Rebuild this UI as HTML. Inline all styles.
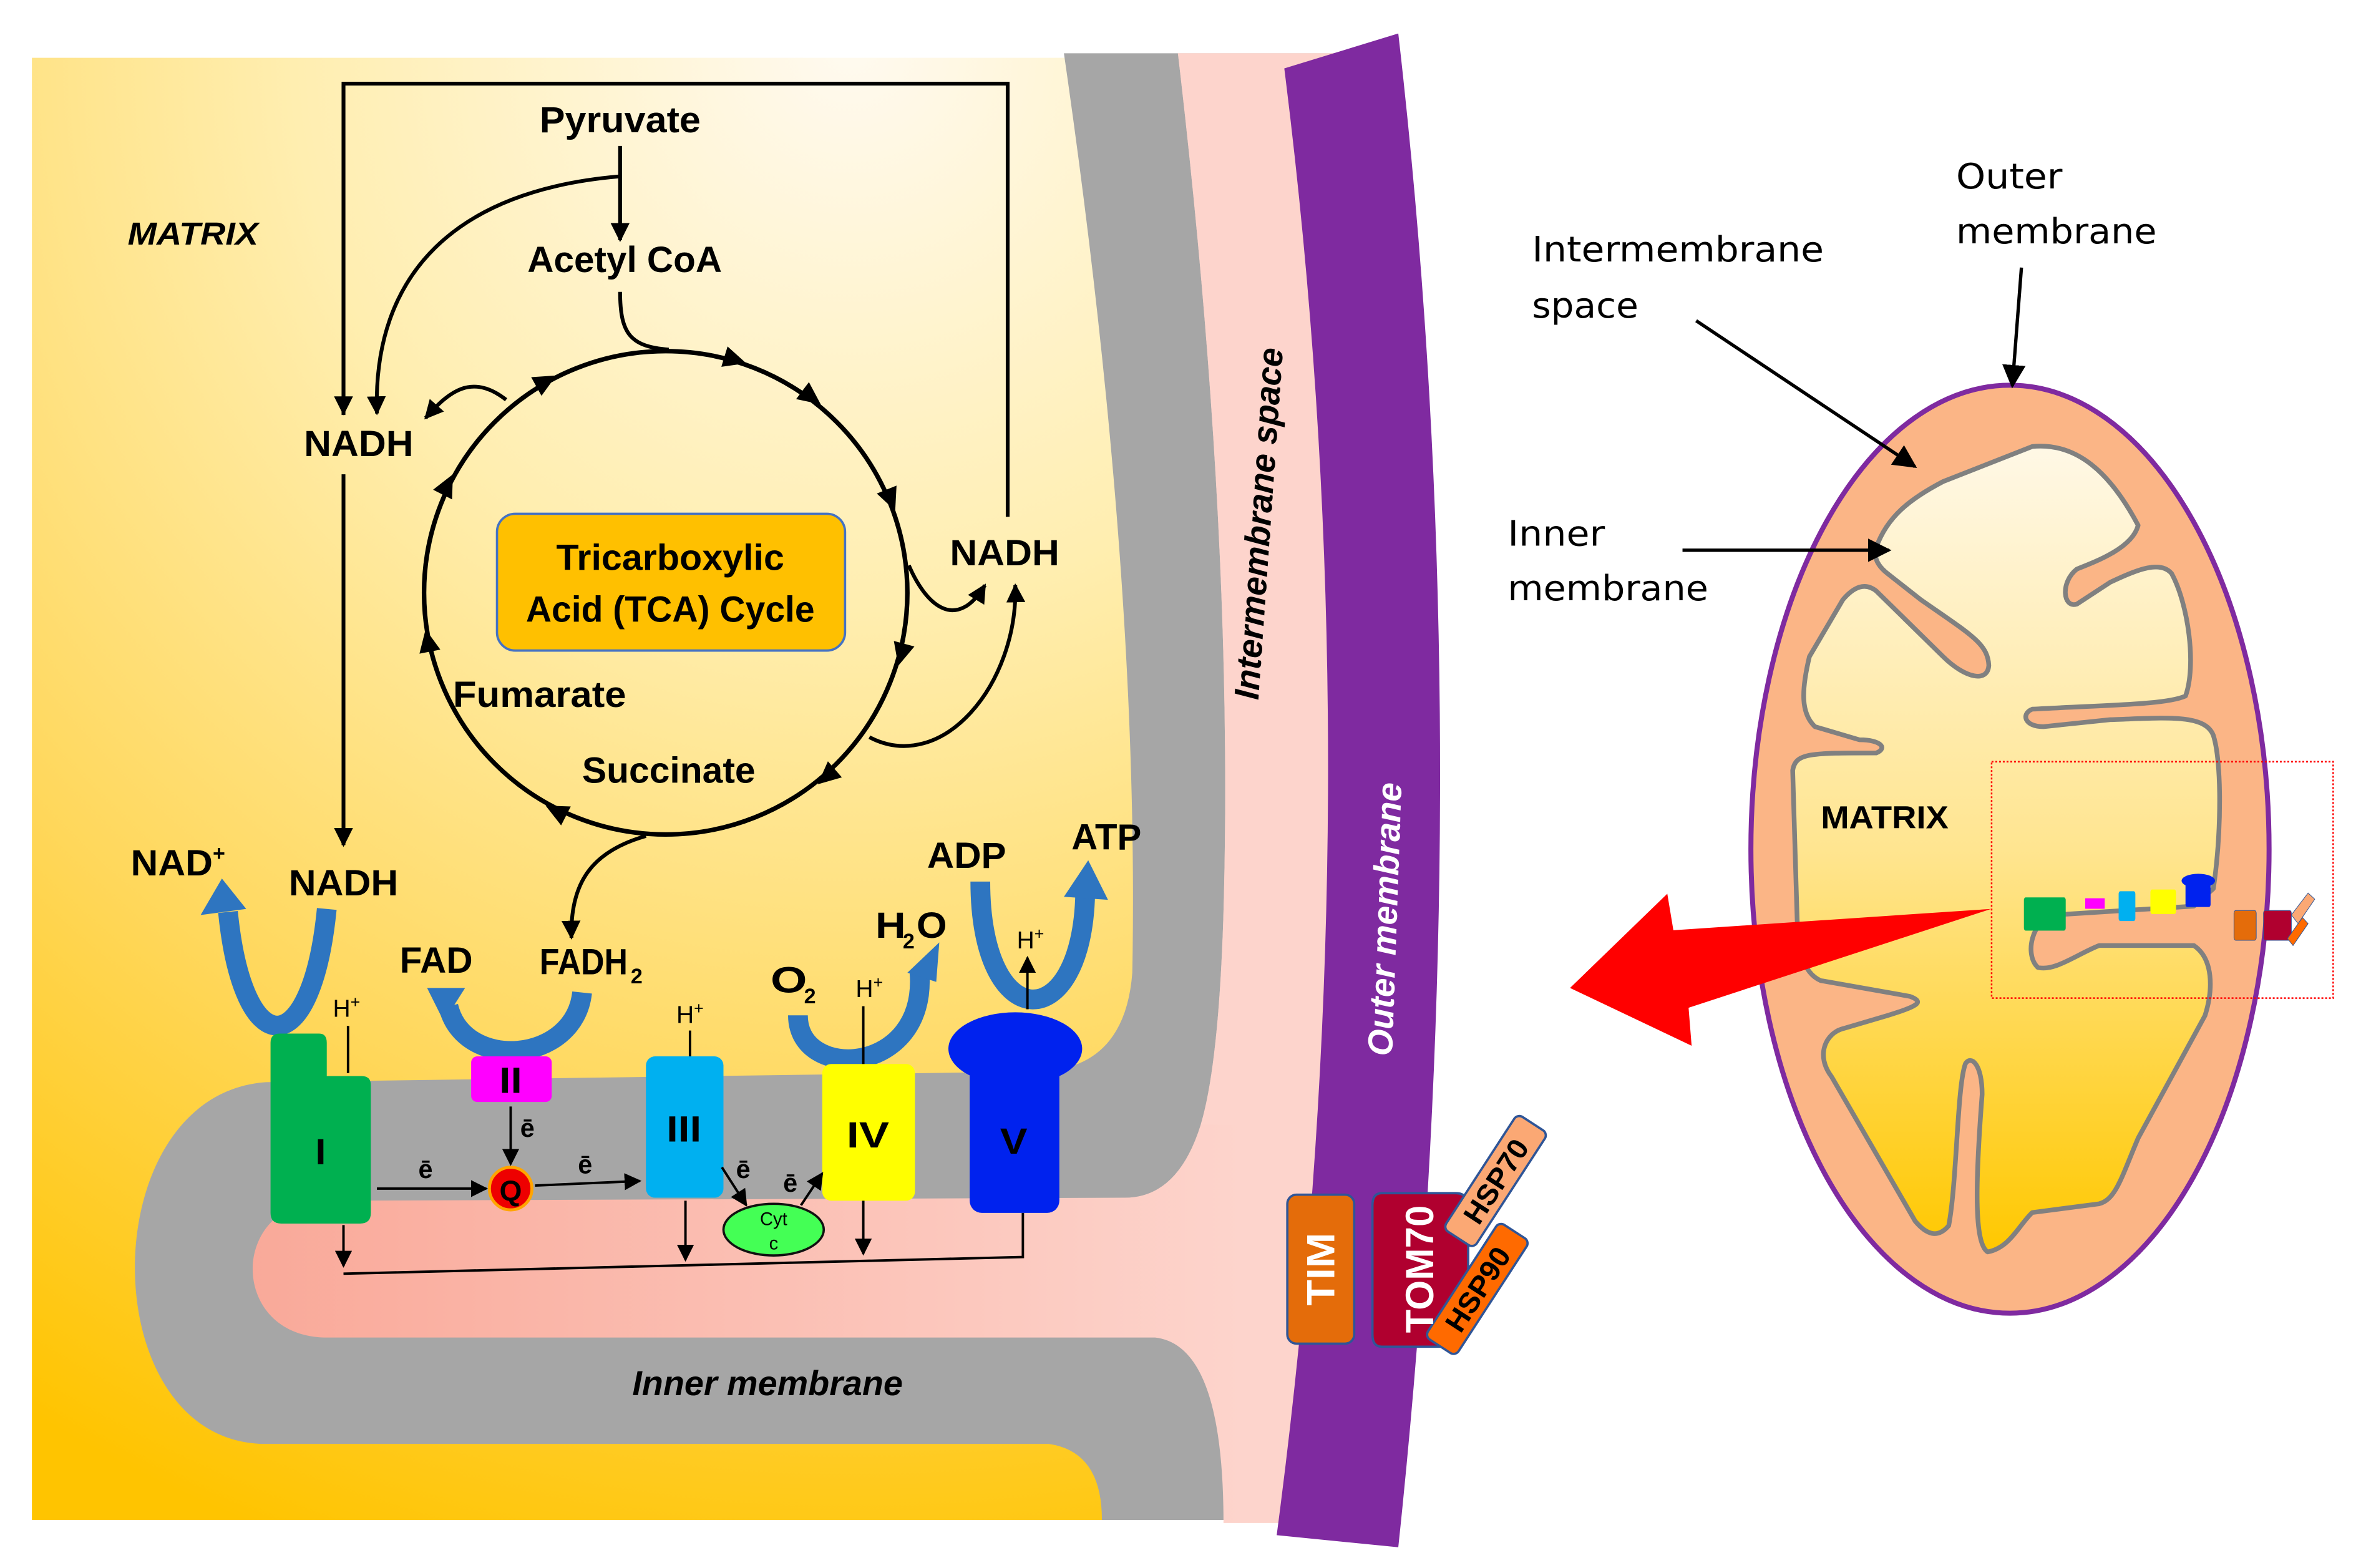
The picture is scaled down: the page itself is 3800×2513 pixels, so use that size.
<!DOCTYPE html>
<html><head><meta charset="utf-8"><style>html,body{margin:0;padding:0;background:#fff}svg{display:block}</style></head>
<body>
<svg width="3800" height="2513" viewBox="0 0 1560 1031.6" xmlns="http://www.w3.org/2000/svg" font-family="'Liberation Sans', sans-serif">
<defs>
<radialGradient id="gold" gradientUnits="userSpaceOnUse" cx="560" cy="30" r="1050">
<stop offset="0" stop-color="#fffaf0"/><stop offset="0.35" stop-color="#ffeeb0"/><stop offset="0.7" stop-color="#ffd75a"/><stop offset="1" stop-color="#ffc400"/></radialGradient>
<linearGradient id="pinkg" gradientUnits="userSpaceOnUse" x1="150" y1="0" x2="820" y2="0">
<stop offset="0" stop-color="#f9a898"/><stop offset="1" stop-color="#fdd4cc"/></linearGradient>
<linearGradient id="mgold" x1="0" y1="0" x2="0" y2="1">
<stop offset="0" stop-color="#fff8e6"/><stop offset="0.5" stop-color="#ffe590"/><stop offset="1" stop-color="#ffc800"/></linearGradient>
<marker id="ah" viewBox="0 0 10 10" refX="9" refY="5" markerWidth="5" markerHeight="5" orient="auto"><path d="M0,0 L10,5 L0,10 Z" fill="#000"/></marker>
<marker id="ahs" viewBox="0 0 10 10" refX="9" refY="5" markerWidth="7" markerHeight="7" orient="auto"><path d="M0,0 L10,5 L0,10 Z" fill="#000"/></marker>
</defs>

<rect x="21" y="38" width="860" height="962" fill="url(#gold)"/>
<path d="M700,35 Q750,380 745,640 Q740,705 680,705 L175,712 C60,720 60,950 175,950 L690,950 Q725,955 725,1000 L880,1000 L880,35 Z" fill="#a6a6a6"/>
<path d="M775,35 Q812,350 805,600 Q802,700 790,740 Q775,788 740,788 L215,790 C150,790 150,880 215,880 L760,880 Q805,885 805,1002 L880,1002 L880,35 Z" fill="url(#pinkg)"/>
<path d="M775,35 Q812,350 805,600 Q802,700 790,740 L880,740 L880,35 Z" fill="#fdd4cc"/>
<path d="M845,45 L920,22 Q975,500 920,1018 L840,1010 Q905,520 845,45 Z" fill="#7f2aa0"/>

<text transform="translate(836,345) rotate(-86)" text-anchor="middle" font-size="23" font-weight="bold" font-style="italic" textLength="232" lengthAdjust="spacingAndGlyphs">Intermembrane space</text>
<text transform="translate(919,605) rotate(-88)" text-anchor="middle" font-size="23" font-weight="bold" font-style="italic" fill="#fff" textLength="180" lengthAdjust="spacingAndGlyphs">Outer membrane</text>
<text x="505" y="918" text-anchor="middle" font-size="23" font-weight="bold" font-style="italic" textLength="178" lengthAdjust="spacingAndGlyphs">Inner membrane</text>
<text x="127" y="161" text-anchor="middle" font-size="21" font-weight="bold" font-style="italic" textLength="86" lengthAdjust="spacingAndGlyphs">MATRIX</text>

<g fill="none" stroke="#000" stroke-width="2.5">
<path d="M226,273 L226,55 L663,55 L663,340"/>
<path d="M226,55 L226,272" marker-end="url(#ah)"/>
<path d="M408,96 L408,158" marker-end="url(#ah)"/>
<path d="M408,116 C300,125 245,180 248,272" marker-end="url(#ah)"/>
<path d="M226,312 L226,556" marker-end="url(#ah)"/>
<path d="M408,192 C408,220 415,228 440,230"/>
<path d="M333,263 C310,245 295,258 280,275" marker-end="url(#ah)"/>
<path d="M598,372 C610,400 630,415 648,385" marker-end="url(#ah)"/>
<path d="M572,485 C620,510 670,450 668,385" marker-end="url(#ah)"/>
<path d="M425,550 C390,560 375,580 376,617" marker-end="url(#ah)"/>
<circle cx="438" cy="390" r="159" stroke-width="3"/>
</g>
<g fill="#000">
<path d="M0,0 L-15,-7 L-15,7Z" transform="translate(491,239) rotate(17)"/>
<path d="M0,0 L-15,-7 L-15,7Z" transform="translate(540,266) rotate(37)"/>
<path d="M0,0 L-15,-7 L-15,7Z" transform="translate(589,336) rotate(68)"/>
<path d="M0,0 L-15,-7 L-15,7Z" transform="translate(591,438) rotate(105)"/>
<path d="M0,0 L-15,-7 L-15,7Z" transform="translate(538,516) rotate(139)"/>
<path d="M0,0 L-15,-7 L-15,7Z" transform="translate(359,530) rotate(207)"/>
<path d="M0,0 L-15,-7 L-15,7Z" transform="translate(280,414) rotate(259)"/>
<path d="M0,0 L-15,-7 L-15,7Z" transform="translate(298,312) rotate(297)"/>
<path d="M0,0 L-15,-7 L-15,7Z" transform="translate(366,247) rotate(331)"/>
</g>

<rect x="327" y="338" width="229" height="90" rx="12" fill="#ffc000" stroke="#4472c4" stroke-width="1.5"/>
<g font-weight="bold" font-size="24" text-anchor="middle">
<text x="441" y="375" textLength="150" lengthAdjust="spacingAndGlyphs">Tricarboxylic</text>
<text x="441" y="409" textLength="190" lengthAdjust="spacingAndGlyphs">Acid (TCA) Cycle</text>
<text x="408" y="87" textLength="106" lengthAdjust="spacingAndGlyphs">Pyruvate</text>
<text x="411" y="179" textLength="128" lengthAdjust="spacingAndGlyphs">Acetyl CoA</text>
<text x="236" y="300" textLength="72" lengthAdjust="spacingAndGlyphs">NADH</text>
<text x="661" y="372" textLength="72" lengthAdjust="spacingAndGlyphs">NADH</text>
<text x="355" y="465" textLength="114" lengthAdjust="spacingAndGlyphs">Fumarate</text>
<text x="440" y="515" textLength="114" lengthAdjust="spacingAndGlyphs">Succinate</text>
<text x="226" y="589" textLength="72" lengthAdjust="spacingAndGlyphs">NADH</text>
<text x="113" y="576" textLength="54" lengthAdjust="spacingAndGlyphs">NAD</text>
<text x="287" y="640" textLength="48" lengthAdjust="spacingAndGlyphs">FAD</text>
<text x="384" y="641" textLength="58" lengthAdjust="spacingAndGlyphs">FADH</text>
<text x="636" y="571" textLength="52" lengthAdjust="spacingAndGlyphs">ADP</text>
<text x="728" y="559" textLength="46" lengthAdjust="spacingAndGlyphs">ATP</text>
<text x="519" y="653" textLength="24" lengthAdjust="spacingAndGlyphs">O</text>
<text x="586" y="617" textLength="20" lengthAdjust="spacingAndGlyphs">H</text>
<text x="613" y="617" textLength="20" lengthAdjust="spacingAndGlyphs">O</text>
</g>
<g font-weight="bold" font-size="14">
<text x="140" y="566">+</text>
<text x="415" y="647">2</text>
<text x="529" y="660">2</text>
<text x="594" y="624">2</text>
</g>
<g font-size="16" text-anchor="middle">
<text x="228" y="669">H<tspan font-size="11" dy="-6">+</tspan></text>
<text x="454" y="673">H<tspan font-size="11" dy="-6">+</tspan></text>
<text x="572" y="656">H<tspan font-size="11" dy="-6">+</tspan></text>
<text x="678" y="624">H<tspan font-size="11" dy="-6">+</tspan></text>
</g>

<g fill="none" stroke="#2e75c0" stroke-width="13">
<path d="M215,598 C205,700 160,700 150,600"/>
<path d="M383,653 C378,700 305,705 295,662"/>
<path d="M525,668 C525,712 610,708 605,640"/>
<path d="M645,580 C645,682 712,682 714,588"/>
</g>
<g fill="#2e75c0">
<path d="M132,602 L146,578 L162,598 Z"/>
<path d="M281,650 L306,650 L292,672 Z"/>
<path d="M597,640 L618,620 L616,646 Z"/>
<path d="M700,590 L716,566 L729,592 Z"/>
</g>

<path d="M184,680 L210,680 Q215,680 215,686 L215,708 L238,708 Q244,708 244,714 L244,798 Q244,805 237,805 L185,805 Q178,805 178,798 L178,686 Q178,680 184,680 Z" fill="#00b050"/>
<rect x="310" y="695" width="53" height="30" rx="4" fill="#ff00ff"/>
<rect x="425" y="695" width="51" height="93" rx="6" fill="#00b0f0"/>
<rect x="541" y="700" width="61" height="90" rx="6" fill="#ffff00"/>
<rect x="638" y="688" width="59" height="110" rx="8" fill="#0022ee"/>
<ellipse cx="668" cy="690" rx="44" ry="24" fill="#0022ee"/>
<circle cx="336" cy="782" r="14" fill="#ee0000" stroke="#ffa500" stroke-width="2"/>
<ellipse cx="509" cy="809" rx="33" ry="17" fill="#44ff55" stroke="#111" stroke-width="1.5"/>
<g font-weight="bold" text-anchor="middle" font-size="24">
<text x="211" y="766" textLength="7" lengthAdjust="spacingAndGlyphs">I</text>
<text x="336" y="719" textLength="15" lengthAdjust="spacingAndGlyphs">II</text>
<text x="450" y="751" textLength="23" lengthAdjust="spacingAndGlyphs">III</text>
<text x="571" y="755" textLength="28" lengthAdjust="spacingAndGlyphs">IV</text>
<text x="667" y="759" textLength="18" lengthAdjust="spacingAndGlyphs">V</text>
<text x="336" y="790" font-size="19">Q</text>
</g>
<text x="509" y="806" text-anchor="middle" font-size="12">Cyt</text>
<text x="509" y="822" text-anchor="middle" font-size="12">c</text>
<g font-weight="bold" font-size="17" text-anchor="middle">
<text x="280" y="775">ē</text><text x="347" y="748">ē</text><text x="385" y="772">ē</text><text x="489" y="775">ē</text><text x="520" y="784">ē</text>
</g>
<g fill="none" stroke="#000" stroke-width="1.6">
<path d="M248,782 L320,782" marker-end="url(#ahs)"/>
<path d="M336,728 L336,766" marker-end="url(#ahs)"/>
<path d="M352,780 L421,777" marker-end="url(#ahs)"/>
<path d="M475,768 L491,793" marker-end="url(#ahs)"/>
<path d="M527,793 L541,772" marker-end="url(#ahs)"/>
<path d="M229,675 L229,706"/>
<path d="M454,678 L454,695"/>
<path d="M568,662 L568,700"/>
<path d="M676,664 L676,630" marker-end="url(#ahs)"/>
<path d="M226,806 L226,833" marker-end="url(#ahs)"/>
<path d="M451,790 L451,829" marker-end="url(#ahs)"/>
<path d="M568,790 L568,825" marker-end="url(#ahs)"/>
<path d="M226,838 L673,827 L673,798"/>
</g>

<rect x="847" y="786" width="44" height="98" rx="6" fill="#e46c0a" stroke="#2f5597" stroke-width="1.5"/>
<path d="M909,785 L958,785 Q966,785 966,795 L966,860 L955,886 L909,886 Q903,886 903,878 L903,793 Q903,785 909,785 Z" fill="#b0002f" stroke="#2f5597" stroke-width="1.5"/>
<g transform="translate(984,777) rotate(-57)"><rect x="-45" y="-12" width="90" height="24" rx="4" fill="#fba874" stroke="#2f5597" stroke-width="1.5"/><text x="0" y="7" text-anchor="middle" font-size="19" font-weight="bold" textLength="62" lengthAdjust="spacingAndGlyphs">HSP70</text></g>
<g transform="translate(972,848) rotate(-57)"><rect x="-45" y="-12" width="90" height="24" rx="4" fill="#ff6a00" stroke="#2f5597" stroke-width="1.5"/><text x="0" y="7" text-anchor="middle" font-size="19" font-weight="bold" textLength="62" lengthAdjust="spacingAndGlyphs">HSP90</text></g>
<text transform="translate(878,835) rotate(-90)" text-anchor="middle" font-size="26" font-weight="bold" fill="#fff" textLength="48" lengthAdjust="spacingAndGlyphs">TIM</text>
<text transform="translate(943,835) rotate(-90)" text-anchor="middle" font-size="26" font-weight="bold" fill="#fff" textLength="84" lengthAdjust="spacingAndGlyphs">TOM70</text>

<g transform="translate(985.2,0) scale(0.3666,0.576)">
<ellipse cx="920" cy="970" rx="465" ry="530" fill="#fbb586" stroke="#7f2aa0" stroke-width="8" vector-effect="non-scaling-stroke"/>
<path d="M680,625 C700,590 740,570 800,550 L960,510 C1040,505 1100,540 1150,600 C1140,625 1080,640 1040,650 C1010,665 1015,695 1040,690 L1100,665 C1150,650 1190,640 1210,655 C1240,690 1255,760 1235,795 C1200,805 1100,805 960,810 C940,815 945,830 980,830 L1100,822 C1200,820 1270,815 1285,840 C1300,870 1300,950 1285,1015 L1250,1035 L1000,1045 C960,1050 945,1090 970,1105 C1000,1110 1040,1090 1080,1080 L1250,1080 C1285,1095 1285,1130 1270,1160 L1150,1300 C1120,1345 1110,1370 1080,1375 L960,1385 C935,1400 920,1425 880,1430 C855,1420 858,1350 870,1250 C870,1215 850,1205 840,1215 C825,1240 825,1350 810,1400 C790,1415 770,1410 750,1395 L600,1230 C570,1205 590,1180 620,1175 L700,1160 C750,1150 770,1145 740,1138 L580,1120 C545,1110 540,1080 538,1050 L530,880 C535,860 560,860 680,860 C700,855 690,845 650,845 L570,830 C545,815 545,790 560,750 L620,685 C640,670 660,665 680,675 L800,750 C840,775 880,780 882,760 C880,735 850,725 760,685 L700,655 C680,645 675,635 680,625 Z" fill="url(#mgold)" stroke="#808080" stroke-width="7.5" vector-effect="non-scaling-stroke" stroke-linejoin="round"/>
<rect x="887" y="870" width="613" height="270" fill="none" stroke="#ff0000" stroke-width="2.5" stroke-dasharray="3,3" vector-effect="non-scaling-stroke"/>
<rect x="945" y="1025" width="75" height="38" rx="3" fill="#00b050"/>
<rect x="1055" y="1026" width="35" height="12" fill="#ff00ff"/>
<rect x="1115" y="1018" width="30" height="34" rx="3" fill="#00b0f0"/>
<rect x="1172" y="1016" width="46" height="28" rx="3" fill="#ffff00"/>
<rect x="1235" y="1004" width="45" height="32" rx="3" fill="#0022ee"/>
<ellipse cx="1258" cy="1006" rx="30" ry="8" fill="#0022ee"/>
<rect x="1322" y="1040" width="40" height="34" rx="3" fill="#e46c0a" stroke="#2f5597" stroke-width="1" vector-effect="non-scaling-stroke"/>
<rect x="1375" y="1040" width="50" height="34" rx="3" fill="#b0002f" stroke="#2f5597" stroke-width="1" vector-effect="non-scaling-stroke"/>
<path d="M1425,1045 L1455,1020 L1467,1027 L1437,1055 Z" fill="#fba874" stroke="#2f5597" stroke-width="1" vector-effect="non-scaling-stroke"/>
<path d="M1418,1072 L1445,1048 L1455,1055 L1428,1080 Z" fill="#ff6a00" stroke="#2f5597" stroke-width="1" vector-effect="non-scaling-stroke"/>
</g>
<path d="M1033,650 L1097,588 L1101,612 L1310,598 L1111,663 L1113,688 Z" fill="#ff0000"/>
<g font-family="'DejaVu Sans', sans-serif" font-size="23">
<text x="1287" y="124" textLength="70" lengthAdjust="spacingAndGlyphs">Outer</text>
<text x="1287" y="160" textLength="132" lengthAdjust="spacingAndGlyphs">membrane</text>
<text x="1008" y="172" textLength="192" lengthAdjust="spacingAndGlyphs">Intermembrane</text>
<text x="1008" y="209" textLength="70" lengthAdjust="spacingAndGlyphs">space</text>
<text x="992" y="359" textLength="64" lengthAdjust="spacingAndGlyphs">Inner</text>
<text x="992" y="395" textLength="132" lengthAdjust="spacingAndGlyphs">membrane</text>
</g>
<text x="1198" y="545" font-size="21" font-weight="bold" textLength="84" lengthAdjust="spacingAndGlyphs">MATRIX</text>
<g fill="none" stroke="#000" stroke-width="2.2">
<path d="M1116,211 L1260,307" marker-end="url(#ahs)"/>
<path d="M1107,362 L1243,362" marker-end="url(#ahs)"/>
<path d="M1330,176 L1324,254" marker-end="url(#ahs)"/>
</g>
</svg>
</body></html>
